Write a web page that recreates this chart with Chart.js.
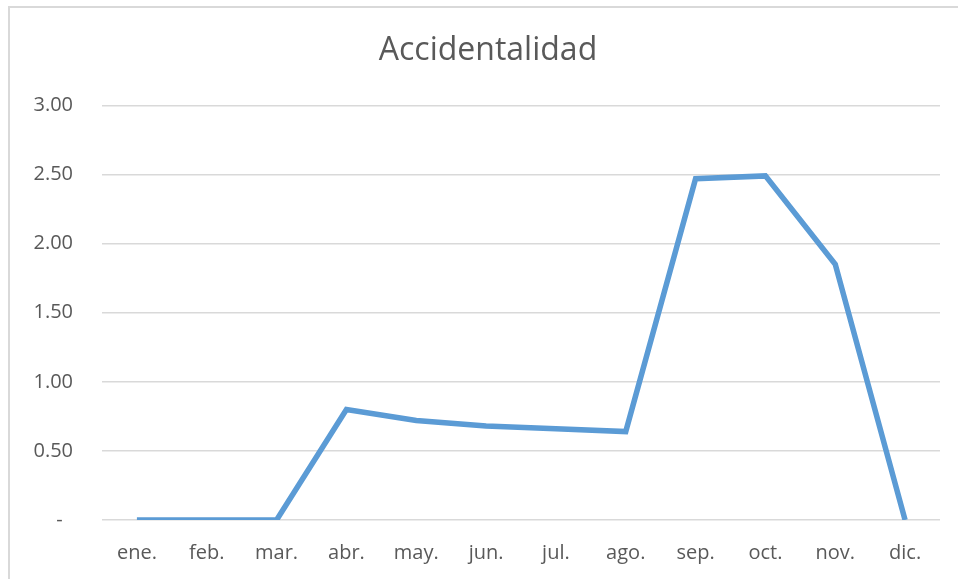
<!DOCTYPE html>
<html>
<head>
<meta charset="utf-8">
<script src="https://cdn.jsdelivr.net/npm/chart.js@4/dist/chart.umd.min.js"></script>
<style>
    html, body { margin: 0; padding: 0; background: #ffffff; }
    #wrap { position: relative; width: 958px; height: 579px; overflow: hidden; }
    #frame {
        position: absolute; left: 8px; top: 6px; width: 980px; height: 600px;
        border: 2px solid #d9d9d9; box-sizing: border-box;
    }
    canvas { position: absolute; left: 0; top: 0; }
</style>
</head>
<body>
<div id="wrap">
    <div id="frame"></div>
    <canvas id="chart" width="958" height="579"></canvas>
</div>
<script>
const months = ["ene.", "feb.", "mar.", "abr.", "may.", "jun.", "jul.", "ago.", "sep.", "oct.", "nov.", "dic."];
const accidentalidad = [0, 0, 0, 0.80, 0.72, 0.68, 0.66, 0.64, 2.47, 2.49, 1.85, 0];
const yMin = 0;
const yMax = 3;
const yStep = 0.5;

const textColor = "#595959";
const fontFamily = "'Open Sans', 'Liberation Sans', sans-serif";

// Excel accounting format: zero shows as a dash, others with two decimals
function formatTick(value) {
    if (value === 0) {
        return "-  ";
    }
    return value.toFixed(2);
}

// Centre the title on the framed area rather than the whole canvas
const titleShift = {
    id: "titleShift",
    afterLayout(chart) {
        if (chart.titleBlock) {
            chart.titleBlock.left = 36;
            chart.titleBlock.right = chart.chartArea.right;
        }
    },
};

new Chart(document.getElementById("chart"), {
    type: "line",
    data: {
        labels: months,
        datasets: [
            {
                label: "Accidentalidad",
                data: accidentalidad,
                borderColor: "#5b9bd5",
                borderWidth: 5.5,
                pointRadius: 0,
                tension: 0,
                fill: false,
            },
        ],
    },
    options: {
        responsive: false,
        animation: false,
        layout: {
            padding: { left: 0, right: 18, top: 24, bottom: 0 },
        },
        plugins: {
            legend: { display: false },
            tooltip: { enabled: false },
            title: {
                display: true,
                text: "Accidentalidad",
                color: textColor,
                font: { family: fontFamily, size: 32, weight: "normal", lineHeight: 1.2 },
                padding: { top: 8, bottom: 35 },
            },
        },
        scales: {
            x: {
                offset: true,
                grid: { display: false, drawTicks: false },
                border: { display: false },
                ticks: {
                    color: textColor,
                    font: { family: fontFamily, size: 20 },
                    padding: 21,
                    maxRotation: 0,
                },
                afterFit: (scale) => {
                    scale.height = 59;
                },
            },
            y: {
                min: yMin,
                max: yMax,
                grid: { color: "#d9d9d9", lineWidth: 1.5, drawTicks: false },
                border: { display: false },
                ticks: {
                    stepSize: yStep,
                    color: textColor,
                    font: { family: fontFamily, size: 20 },
                    padding: 29,
                    callback: formatTick,
                },
                afterFit: (scale) => {
                    scale.width = 102;
                },
            },
        },
    },
    plugins: [titleShift],
});
</script>
</body>
</html>
